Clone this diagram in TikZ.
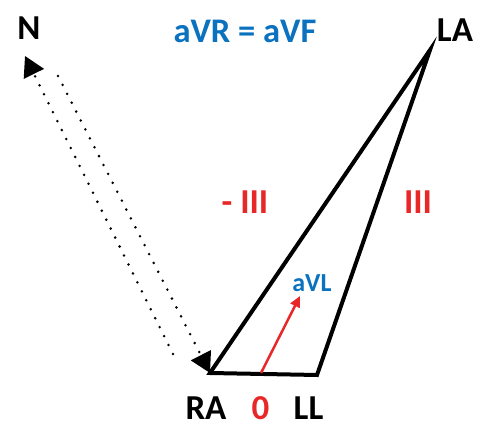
\documentclass[tikz,border=0pt]{standalone}
\usepackage{fontspec}
\setmainfont{Carlito}
\usetikzlibrary{arrows.meta}
\definecolor{leadblue}{RGB}{10,114,190}
\definecolor{leadred}{RGB}{232,40,40}
\tikzset{
  lbl/.style={font=\fontsize{35}{40}\selectfont\bfseries, inner sep=0pt},
  side/.style={line width=4pt, line join=miter},
  dotline/.style={line width=2.8pt, line cap=round, dash pattern=on 0pt off 10pt,
    -{Triangle[length=20pt,width=22pt,line cap=butt]}},
}
\begin{document}
\begin{tikzpicture}[x=1pt,y=-1pt]
      \useasboundingbox (0,0) rectangle (491,443);
      \coordinate (RA) at (210,373);
      \coordinate (LL) at (317,375);
      \coordinate (LA) at (430,50);
      \coordinate (Nt) at (25,56);
      \coordinate (Nb) at (173,354);
      \coordinate (Ns) at (58,76);
      \coordinate (O) at (261,373);
      \coordinate (aVLt) at (300,296);
      % labels
      \node[lbl] (N) at (29,28) {N};
      \node[lbl, leadblue, font=\fontsize{34.5}{38}\selectfont\bfseries] (aVRF) at (245,31.5) {aVR = aVF};
      \node[lbl] (LAl) at (455,30) {LA};
      \node[lbl, leadred] (mIII) at (245,202) {- III};
      \node[lbl, leadred] (III) at (418,202) {III};
      \node[lbl, leadblue, font=\fontsize{26}{30}\selectfont\bfseries] (aVL) at (312,283) {aVL};
      \node[lbl] (RAl) at (206,408.5) {RA};
      \node[lbl, leadred] (zero) at (260.5,408.5) {0};
      \node[lbl] (LLl) at (308.5,408.5) {LL};
      % triangle
      \draw[side] (RA) -- (LL) -- (LA) -- cycle;
      \begin{scope}[dotline]
        \draw (Nb) to (Nt);
        \draw (Ns) to (RA);
      \end{scope}
      \draw[leadred, line width=2.5pt, -{Triangle[length=11pt,width=10pt]}] (O) -- (aVLt);
    \end{tikzpicture}
\end{document}
